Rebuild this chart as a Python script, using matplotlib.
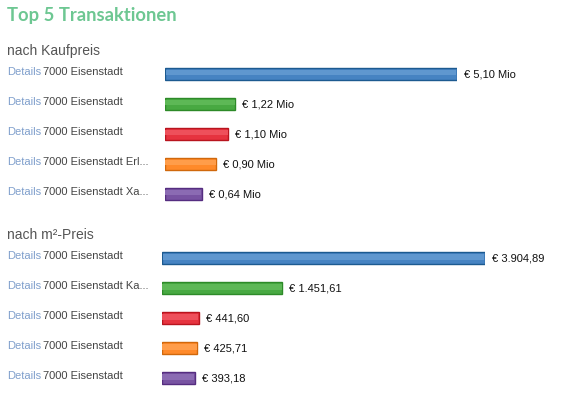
import matplotlib
matplotlib.use('Agg')
import matplotlib.pyplot as plt
from matplotlib.transforms import blended_transform_factory

# data
kauf_labels = ['7000 Eisenstadt', '7000 Eisenstadt', '7000 Eisenstadt',
               '7000 Eisenstadt Erl...', '7000 Eisenstadt Xa...']
kauf_values = [5.10, 1.22, 1.10, 0.90, 0.64]  # Mio EUR

qm_labels = ['7000 Eisenstadt', '7000 Eisenstadt Ka...', '7000 Eisenstadt',
             '7000 Eisenstadt', '7000 Eisenstadt']
qm_values = [3904.89, 1451.61, 441.60, 425.71, 393.18]

fills = ['#4683c2', '#48a942', '#e6333f', '#ff8a2a', '#7853a2']
highlights = ['#5f97cf', '#5db856', '#ee505b', '#ff9d4a', '#8b6bb3']
edges = ['#1c5a90', '#2d8a28', '#b8141e', '#d0680c', '#552d80']

W, H = 580, 398
plt.rcParams['font.family'] = ['Liberation Sans', 'DejaVu Sans']

fig = plt.figure(figsize=(W / 100, H / 100), dpi=100)


def fmt_de(v, dec=2):
    s = '{:,.{}f}'.format(v, dec)
    return s.replace(',', 'X').replace('.', ',').replace('X', '.')


def draw_section(left_px, width_px, top_px, values, labels, valtexts):
    ax = fig.add_axes([left_px / W, 1 - (top_px + 150) / H, width_px / W, 150 / H])
    ys = list(range(len(values)))
    ax.barh(ys, values, height=0.4, color=fills, edgecolor=edges, linewidth=1.0)
    # soft stripe to hint the glossy gradient of the original bars
    ax.barh([y - 0.05 for y in ys], [v * 0.994 for v in values], height=0.18,
            left=[v * 0.003 for v in values], color=highlights, linewidth=0)
    ax.set_xlim(0, values[0])
    ax.set_ylim(len(values) - 0.5, -0.5)
    ax.axis('off')
    tr = blended_transform_factory(fig.transFigure, ax.transData)
    for y, v, lab, vt in zip(ys, values, labels, valtexts):
        fig.text(7 / W, y - 0.07, 'Details', transform=tr, color='#7f9fcc',
                 fontsize=8, va='center', ha='left')
        fig.text(43 / W, y - 0.07, lab, transform=tr, color='#444444',
                 fontsize=8, va='center', ha='left')
        ax.annotate(vt, xy=(v, y), xytext=(7, 0), textcoords='offset pixels',
                    va='center', ha='left', fontsize=8, color='#111111',
                    annotation_clip=False)
    return ax


fig.text(7 / W, 1 - 16 / H, 'Top 5 Transaktionen', color='#6dc792',
         fontsize=13.2, fontweight='bold', family=['Lato', 'DejaVu Sans'],
         va='center', ha='left')
fig.text(7 / W, 1 - 51 / H, 'nach Kaufpreis', color='#555555', fontsize=10,
         va='center', ha='left')
fig.text(7 / W, 1 - 235 / H, 'nach m²-Preis', color='#555555', fontsize=10,
         va='center', ha='left')

draw_section(165, 291.7, 59.2, kauf_values, kauf_labels,
             ['€ ' + fmt_de(v) + ' Mio' for v in kauf_values])
draw_section(162, 323.4, 243.3, qm_values, qm_labels,
             ['€ ' + fmt_de(v) for v in qm_values])

fig.savefig('out.png', dpi=100)
